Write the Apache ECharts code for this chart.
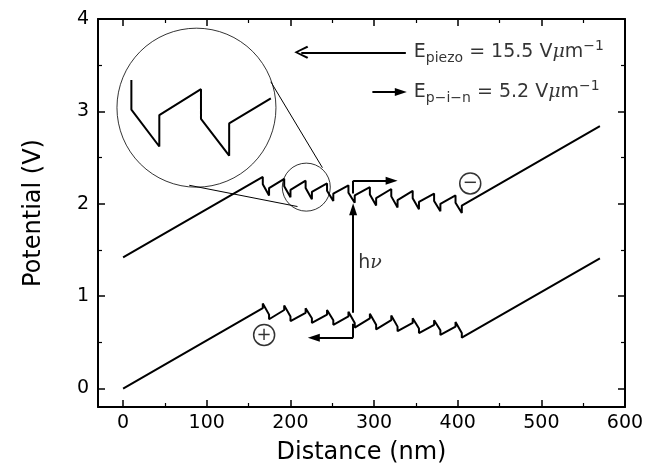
<!DOCTYPE html>
<html>
<head>
<meta charset="utf-8">
<script src="https://cdn.jsdelivr.net/npm/echarts@6/dist/echarts.min.js"></script>
<style>
html, body { margin: 0; padding: 0; background: #fff; }
#chart { width: 657px; height: 474px; }
</style>
</head>
<body>
<div id="chart"></div>
<script>
// band edges, [distance nm, potential V]
const upperBand = [
  [0, 1.42], [167, 2.29], [167, 2.21], [174.5, 2.09], [174.5, 2.17],
  [192.6, 2.27], [192.6, 2.19], [200.1, 2.07], [200.1, 2.15],
  [218.2, 2.25], [218.2, 2.17], [225.7, 2.05], [225.7, 2.13],
  [243.8, 2.22], [243.8, 2.14], [251.3, 2.03], [251.3, 2.11],
  [269.4, 2.20], [269.4, 2.12], [276.9, 2.01], [276.9, 2.09],
  [295, 2.18], [295, 2.10], [302.5, 1.98], [302.5, 2.06],
  [320.6, 2.16], [320.6, 2.08], [328.1, 1.96], [328.1, 2.04],
  [346.2, 2.14], [346.2, 2.06], [353.7, 1.94], [353.7, 2.02],
  [371.8, 2.11], [371.8, 2.03], [379.3, 1.92], [379.3, 2.00],
  [397.4, 2.09], [397.4, 2.01], [404.9, 1.90], [404.9, 1.98],
  [570, 2.84]
];
const lowerBand = [
  [0, 0], [167, 0.87], [167, 0.92], [174.5, 0.80], [174.5, 0.75],
  [192.6, 0.85], [192.6, 0.90], [200.1, 0.78], [200.1, 0.73],
  [218.2, 0.82], [218.2, 0.87], [225.7, 0.76], [225.7, 0.71],
  [243.8, 0.80], [243.8, 0.85], [251.3, 0.74], [251.3, 0.69],
  [269.4, 0.78], [269.4, 0.83], [276.9, 0.71], [276.9, 0.66],
  [295, 0.76], [295, 0.81], [302.5, 0.69], [302.5, 0.64],
  [320.6, 0.74], [320.6, 0.79], [328.1, 0.67], [328.1, 0.62],
  [346.2, 0.71], [346.2, 0.76], [353.7, 0.65], [353.7, 0.60],
  [371.8, 0.69], [371.8, 0.74], [379.3, 0.63], [379.3, 0.58],
  [397.4, 0.67], [397.4, 0.72], [404.9, 0.60], [404.9, 0.55],
  [570, 1.41]
];
// magnified view of two wells (inset)
const insetZoom = [
  [9.9, 3.34], [9.9, 3.02], [43.3, 2.62], [43.3, 2.96], [93.1, 3.24],
  [93.1, 2.92], [126.8, 2.52], [126.8, 2.87], [176.6, 3.14]
];
const insetCircle = [87.7, 3.04];
const spotCircle = [219, 2.18];
const tangentTop = [[176.6, 3.32], [238.3, 2.39]];
const tangentBottom = [[79.1, 2.20], [208.5, 1.97]];

const electronMark = [415, 2.22];
const holeMark = [168.6, 0.58];

const photonArrow = [[275, 0.82], [275, 1.94]];
const electronPath = [[275, 2.11], [275, 2.25], [321, 2.25]];
const holePath = [[275, 0.70], [275, 0.55], [228, 0.55]];
const piezoArrow = [[338, 3.64], [213, 3.64]];
const pinArrow = [[298, 3.21], [332, 3.21]];

const piezoLabelAt = [347.5, 3.64];
const pinLabelAt = [347.5, 3.21];
const hvLabelAt = [281, 1.36];

const FONT = 'DejaVu Sans';
const chevron = 'path://M5,0 L10,9 L8.6,9.8 L5,2.6 L1.4,9.8 L0,9 Z';

const seg = (a, b, sym) => [
  {coord: a, symbol: 'none'},
  {coord: b, symbol: sym || 'none'}
];

const chart = echarts.init(document.getElementById('chart'));

const tickCommon = {
  axisLine: {onZero: false, lineStyle: {color: '#000', width: 2}},
  axisTick: {inside: true, length: 7, lineStyle: {color: '#000', width: 1.5}},
  minorTick: {show: true, splitNumber: 2, length: 4, lineStyle: {color: '#000', width: 1.2}},
  splitLine: {show: false}
};

const option = {
  animation: false,
  backgroundColor: '#fff',
  grid: {left: 98, right: 32, top: 19, bottom: 67},
  xAxis: [
    Object.assign({
      type: 'value', min: -30, max: 600, splitNumber: 6, position: 'bottom',
      name: 'Distance (nm)', nameLocation: 'middle', nameGap: 34,
      nameTextStyle: {fontFamily: FONT, fontSize: 24, color: '#000'},
      axisLabel: {
        fontFamily: FONT, fontSize: 19, color: '#000', margin: 7,
        formatter: v => (v % 100 === 0 ? String(v) : '')
      }
    }, tickCommon),
    Object.assign({
      type: 'value', min: -30, max: 600, splitNumber: 6, position: 'top',
      axisLabel: {show: false}
    }, tickCommon)
  ],
  yAxis: [
    Object.assign({
      type: 'value', min: -0.2, max: 4, splitNumber: 5, position: 'left',
      name: 'Potential (V)', nameLocation: 'middle', nameGap: 52,
      nameTextStyle: {fontFamily: FONT, fontSize: 24, color: '#000'},
      axisLabel: {
        fontFamily: FONT, fontSize: 19, color: '#000', margin: 9,
        formatter: v => (Number.isInteger(v) ? String(v) : '')
      }
    }, tickCommon),
    Object.assign({
      type: 'value', min: -0.2, max: 4, splitNumber: 5, position: 'right',
      axisLabel: {show: false}
    }, tickCommon)
  ],
  series: [
    {
      type: 'line', data: upperBand, showSymbol: false, silent: true,
      lineStyle: {color: '#000', width: 2}
    },
    {
      type: 'line', data: lowerBand, showSymbol: false, silent: true,
      lineStyle: {color: '#000', width: 2}
    },
    {
      type: 'line', data: insetZoom, showSymbol: false, silent: true,
      lineStyle: {color: '#000', width: 2}
    },
    {
      type: 'line', data: tangentTop, showSymbol: false, silent: true,
      lineStyle: {color: '#000', width: 1}
    },
    {
      type: 'line', data: tangentBottom, showSymbol: false, silent: true,
      lineStyle: {color: '#000', width: 1}
    },
    {
      type: 'scatter', silent: true, data: [insetCircle], symbolSize: 159,
      itemStyle: {color: 'rgba(0,0,0,0)', borderColor: '#000', borderWidth: 1}
    },
    {
      type: 'scatter', silent: true, data: [spotCircle], symbolSize: 48,
      itemStyle: {color: 'rgba(0,0,0,0)', borderColor: '#000', borderWidth: 1}
    },
    {
      type: 'scatter', silent: true, symbolSize: 21,
      itemStyle: {color: '#fff', borderColor: '#000', borderWidth: 1.5},
      label: {
        show: true, position: 'inside', color: '#000',
        fontFamily: FONT, fontSize: 18
      },
      data: [
        {value: electronMark, label: {formatter: '\u2212'}},
        {value: holeMark, label: {formatter: '+'}}
      ]
    },
    {
      type: 'scatter', silent: true, symbolSize: 0,
      label: {
        show: true, position: [0, 0], align: 'left', verticalAlign: 'middle',
        color: '#000', fontFamily: FONT,
        rich: {
          n: {fontSize: 19, fontFamily: FONT, color: '#000', lineHeight: 26},
          mu: {fontSize: 19, fontFamily: 'DejaVu Serif', fontStyle: 'italic', color: '#000', lineHeight: 26},
          s: {fontSize: 14, fontFamily: FONT, color: '#000', lineHeight: 18, verticalAlign: 'bottom'},
          p: {fontSize: 14, fontFamily: FONT, color: '#000', lineHeight: 18, verticalAlign: 'top'}
        }
      },
      data: [
        {value: piezoLabelAt, label: {formatter: '{n|E}{s|piezo}{n| = 15.5 V}{mu|\u03bc}{n|m}{p|\u22121}'}},
        {value: pinLabelAt, label: {formatter: '{n|E}{s|p\u2212i\u2212n}{n| = 5.2 V}{mu|\u03bc}{n|m}{p|\u22121}'}},
        {value: hvLabelAt, label: {formatter: '{n|h}{mu|\u03bd}'}}
      ]
    },
    {
      type: 'line', data: [], silent: true,
      markLine: {
        silent: true, animation: false,
        label: {show: false},
        symbolSize: [8, 12],
        lineStyle: {color: '#000', width: 2, type: 'solid'},
        emphasis: {disabled: true},
        data: [
          seg(photonArrow[0], photonArrow[1], 'triangle'),
          seg(electronPath[0], electronPath[1]),
          seg(electronPath[1], electronPath[2], 'triangle'),
          seg(holePath[0], holePath[1]),
          seg(holePath[1], holePath[2], 'triangle'),
          seg(pinArrow[0], pinArrow[1], 'triangle')
        ]
      }
    },
    {
      type: 'line', data: [], silent: true,
      markLine: {
        silent: true, animation: false,
        label: {show: false},
        symbolSize: [13, 14],
        lineStyle: {color: '#000', width: 2, type: 'solid'},
        emphasis: {disabled: true},
        data: [seg(piezoArrow[0], piezoArrow[1], chevron)]
      }
    }
  ]
};

chart.setOption(option);
</script>
</body>
</html>
